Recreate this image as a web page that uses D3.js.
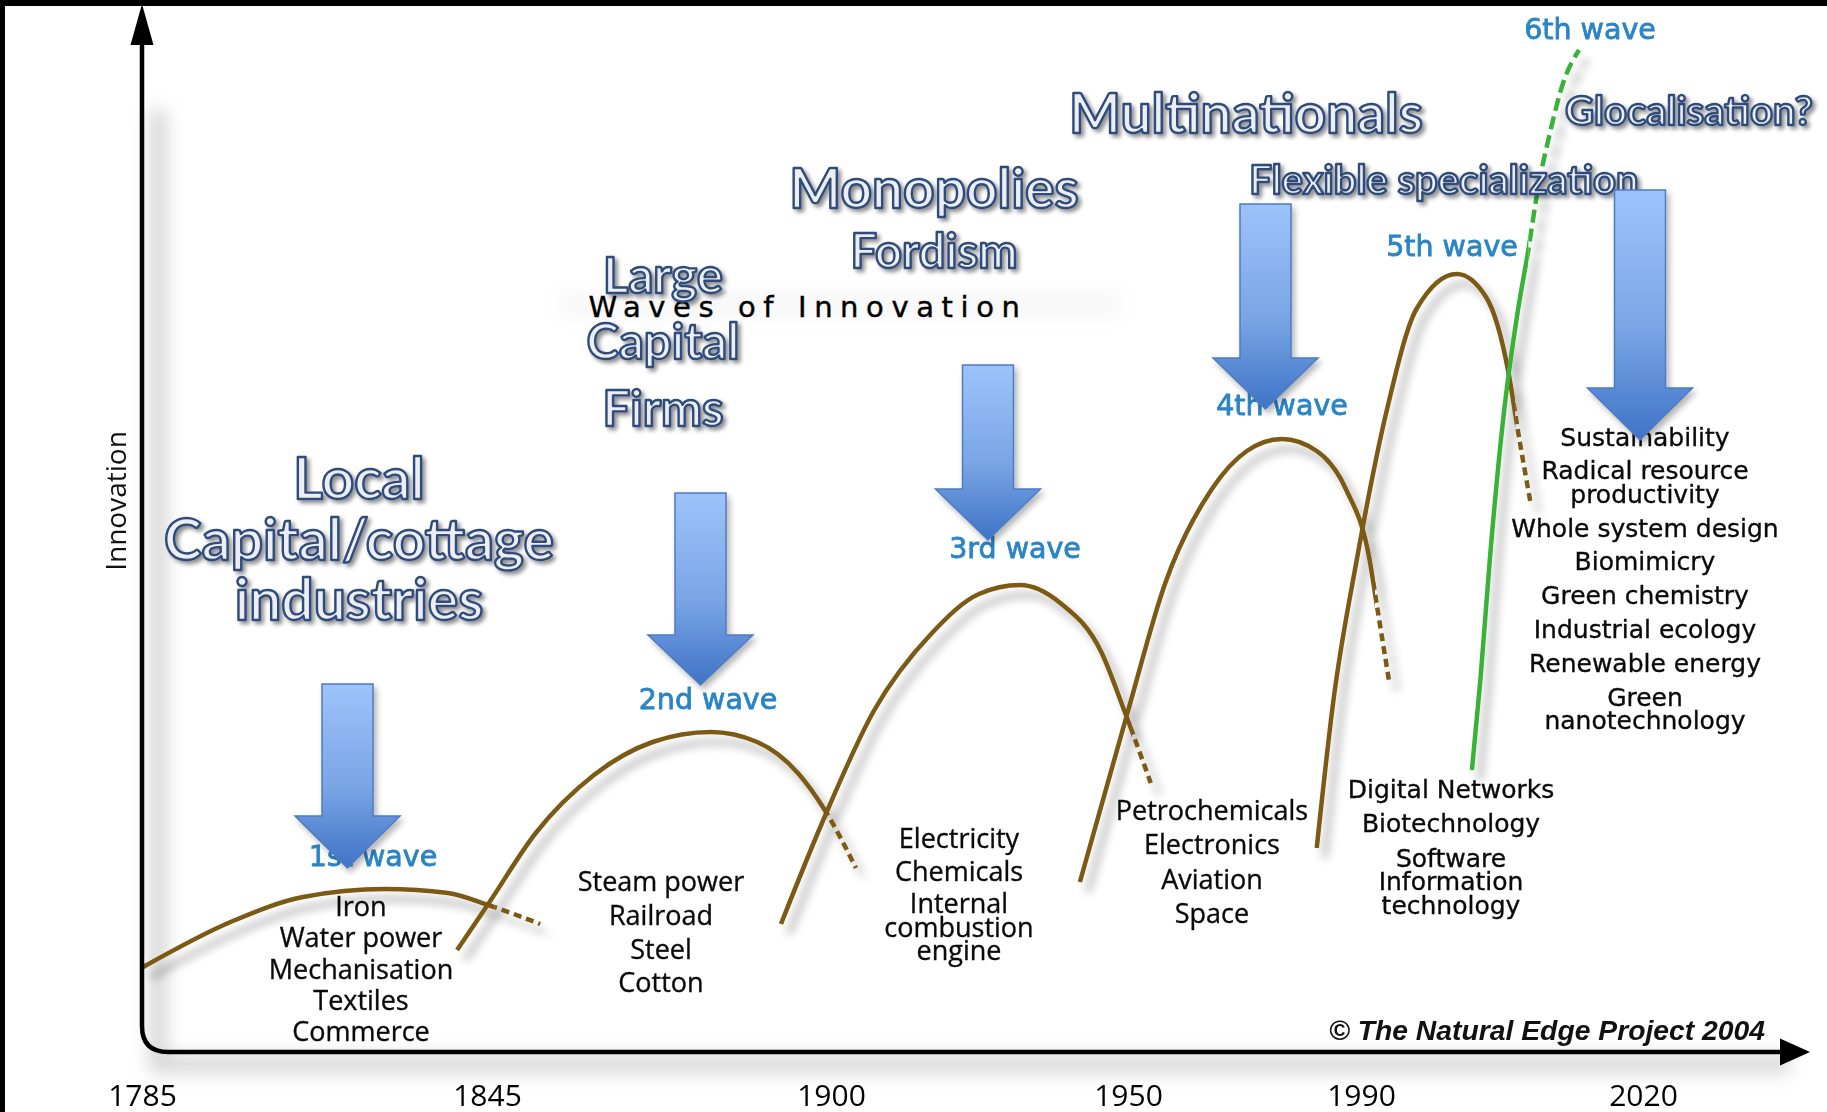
<!DOCTYPE html>
<html><head><meta charset="utf-8">
<script src="https://cdn.jsdelivr.net/npm/d3@7"></script>
<style>
html,body{margin:0;padding:0;background:#fff;}
svg{display:block;}
</style></head>
<body><svg id="chart" width="1827" height="1112"></svg>
<script>
// ================= DATA =================
const tickYears = [1785, 1845, 1900, 1950, 1990, 2020];
const waveNames = ["1st wave", "2nd wave", "3rd wave", "4th wave", "5th wave", "6th wave"];
// [year, innovation level (0-100)]
const wave1 = [[1785.2, 8.5], [1800.8, 13.1], [1813.0, 15.5], [1827.3, 16.3], [1838.2, 15.9], [1845.2, 14.7], [1853.5, 12.8]];
const wave2 = [[1839.8, 10.2], [1845.3, 14.9], [1852.8, 21.9], [1862.1, 27.7], [1871.5, 31.0], [1880.8, 32.0], [1888.2, 31.0], [1894.7, 27.9], [1899.0, 24.2], [1904.2, 18.4]];
const wave3 = [[1892.0, 12.8], [1898.7, 23.1], [1907.2, 34.1], [1917.0, 41.9], [1924.9, 45.8], [1931.8, 46.7], [1938.6, 44.9], [1945.5, 40.0], [1949.4, 34.1], [1953.9, 26.9]];
const wave4 = [[1941.9, 17.0], [1950.0, 34.1], [1956.4, 46.9], [1964.4, 56.3], [1970.4, 60.1], [1976.4, 61.3], [1982.4, 60.1], [1987.4, 56.3], [1990.9, 49.3], [1991.7, 44.6], [1993.0, 37.0]];
const wave5 = [[1982.4, 20.4], [1985.3, 35.3], [1989.3, 49.3], [1992.8, 64.4], [1995.9, 74.3], [2000.2, 77.8], [2003.3, 75.5], [2005.7, 67.9], [2006.7, 62.1], [2008.0, 55.1]];
const wave6 = [[2001.8, 28.2], [2002.7, 37.2], [2003.7, 49.2], [2005.2, 63.9], [2006.7, 74.2], [2007.8, 80.2], [2008.8, 86.2], [2010.1, 91.9], [2011.5, 96.9], [2013.2, 100.2]];
// year after which each wave is drawn dashed (uncertain / fading part)
const waveDashFrom = [1846.2, 1899.4, 1950.7, 1991.5, 2006.4, 2007.8];

const items1 = ["Iron", "Water power", "Mechanisation", "Textiles", "Commerce"];
const items2 = ["Steam power", "Railroad", "Steel", "Cotton"];
const items3 = ["Electricity", "Chemicals", "Internal\ncombustion\nengine"];
const items4 = ["Petrochemicals", "Electronics", "Aviation", "Space"];
const items5 = ["Digital Networks", "Biotechnology", "Software\nInformation\ntechnology"];
const items6 = ["Sustainability", "Radical resource\nproductivity", "Whole system design", "Biomimicry", "Green chemistry", "Industrial ecology", "Renewable energy", "Green\nnanotechnology"];

const eraText = ["Local", "Capital/cottage", "industries", "Large", "Capital", "Firms", "Monopolies", "Fordism", "Multinationals", "Flexible specialization", "Glocalisation?"];

const chartTitle = "Waves of Innovation";
const yAxisTitle = "Innovation";
const credit = "\u00A9 The Natural Edge Project 2004";

// ================= LAYOUT =================
const W = 1827, H = 1112;
const tickPx = [142, 487, 831, 1128, 1361, 1643];
const yTopPx = 52, yBasePx = 1052;

const waveLabelPos = [[373, 856], [708, 699], [1015, 548], [1282, 405], [1452, 246], [1590, 29]];
const sansA = "'Open Sans', sans-serif", sansB = "'DejaVu Sans', sans-serif";
const itemGroups = [
  {items: items1, cx: 361, y0: 907, gap: 31.3, font: sansA, size: 27},
  {items: items2, cx: 661, y0: 882, gap: 33.7, font: sansA, size: 27},
  {items: items3, cx: 959, y0: 839, gap: 32.5, font: sansA, size: 27},
  {items: items4, cx: 1212, y0: 811, gap: 34.3, font: sansA, size: 27},
  {items: items5, cx: 1451, y0: 789, gap: 34.5, font: sansB, size: 25},
  {items: items6, cx: 1645, y0: 437, gap: 33.8, font: sansB, size: 25}
];
const wrapGap = 23.5;
// [cx, baseline, font-size]
const eraPos = [[359, 499, 57], [359, 560, 57], [359, 620, 57],
                [663, 293, 49], [663, 359, 49], [663, 426, 49],
                [934, 208, 55], [934, 268, 47],
                [1246, 133, 55], [1444, 194, 40],
                [1689, 125, 40]];
// arrows: cx, top, head base, tip
const arrows = [[347.5, 684, 816, 868], [700.5, 493, 635, 685], [988, 365, 489, 540], [1265.5, 204, 358, 409], [1640, 190, 388, 440]];

// ================= DRAW =================
const svg = d3.select("#chart");
const defs = svg.append("defs");

function shadowFilter(id, blur, dx, dy, op) {
  const f = defs.append("filter").attr("id", id).attr("x", "-30%").attr("y", "-30%").attr("width", "160%").attr("height", "160%");
  f.append("feGaussianBlur").attr("in", "SourceAlpha").attr("stdDeviation", blur);
  f.append("feOffset").attr("dx", dx).attr("dy", dy).attr("result", "ob");
  const ct = f.append("feComponentTransfer").attr("in", "ob").attr("result", "sh");
  ct.append("feFuncA").attr("type", "linear").attr("slope", op);
  const m = f.append("feMerge");
  m.append("feMergeNode").attr("in", "sh");
  m.append("feMergeNode").attr("in", "SourceGraphic");
}
shadowFilter("curveShadow", 5, 8, 10, 0.35);
shadowFilter("textShadow", 2, 3, 3, 0.45);
shadowFilter("arrowShadow", 3, 3, 4, 0.3);
const blurF = defs.append("filter").attr("id", "softBlur").attr("x", "-20%").attr("y", "-50%").attr("width", "140%").attr("height", "200%");
blurF.append("feGaussianBlur").attr("stdDeviation", 9);

const grad = defs.append("linearGradient").attr("id", "arrowGrad").attr("x1", 0).attr("y1", 0).attr("x2", 0).attr("y2", 1);
grad.append("stop").attr("offset", "0%").attr("stop-color", "#9dc3fa");
grad.append("stop").attr("offset", "55%").attr("stop-color", "#7aa6e6");
grad.append("stop").attr("offset", "100%").attr("stop-color", "#3f73c6");

svg.append("rect").attr("width", W).attr("height", H).attr("fill", "#fff");

const x = d3.scaleLinear().domain(tickYears).range(tickPx);
const y = d3.scaleLinear().domain([0, 100]).range([yBasePx, yTopPx]);

const ax = x(tickYears[0]), ay = y(0);

// soft shadows of axes
svg.append("path")
  .attr("d", `M${ax + 16},110 V${ay + 12} H1790`)
  .attr("fill", "none").attr("stroke", "#9a9a9a").attr("stroke-width", 16)
  .attr("opacity", 0.45).attr("filter", "url(#softBlur)");
// faint haze behind title
svg.append("rect").attr("x", 560).attr("y", 292).attr("width", 560).attr("height", 26)
  .attr("fill", "#ccc").attr("opacity", 0.15).attr("filter", "url(#softBlur)");

// title
svg.append("text").attr("x", 804 + 4).attr("y", 317).attr("text-anchor", "middle")
  .attr("font-family", sansB).attr("font-size", 29)
  .attr("letter-spacing", 7.6).attr("fill", "#000").attr("stroke", "#000").attr("stroke-width", 0.4)
  .text(chartTitle);

// waves
const line = d3.line().x(d => x(d[0])).y(d => y(d[1])).curve(d3.curveMonotoneX);
const waves = [wave1, wave2, wave3, wave4, wave5, wave6];
const waveColors = ["#7b5a12", "#7b5a12", "#7b5a12", "#7b5a12", "#7b5a12", "#39b339"];
const gW = svg.append("g").attr("filter", "url(#curveShadow)");
waves.forEach((w, i) => {
  const xd = x(waveDashFrom[i]);
  defs.append("clipPath").attr("id", "cs" + i).append("rect").attr("x", 0).attr("y", 0).attr("width", xd).attr("height", H);
  defs.append("clipPath").attr("id", "cd" + i).append("rect").attr("x", xd).attr("y", 0).attr("width", W - xd).attr("height", H);
  gW.append("path").attr("d", line(w)).attr("fill", "none").attr("stroke", waveColors[i])
    .attr("stroke-width", 4.5).attr("stroke-linecap", "butt").attr("clip-path", `url(#cs${i})`);
  gW.append("path").attr("d", line(w)).attr("fill", "none").attr("stroke", waveColors[i])
    .attr("stroke-width", 4.5).attr("stroke-dasharray", i === 5 ? "13,6" : "8,5").attr("clip-path", `url(#cd${i})`);
});

// wave item lists
itemGroups.forEach(g => {
  let yy = g.y0;
  const t = svg.append("g").attr("font-family", g.font).attr("font-size", g.size).attr("fill", "#0a0a0a")
    .attr("stroke", "#0a0a0a").attr("stroke-width", 0.35).attr("text-anchor", "middle");
  g.items.forEach((it, k) => {
    if (k > 0) yy += g.gap;
    it.split("\n").forEach((ln, j) => {
      if (j > 0) yy += wrapGap;
      t.append("text").attr("x", g.cx).attr("y", yy).attr("dy", "0.34em").text(ln);
    });
  });
});

// wave labels
waveNames.forEach((n, i) => {
  svg.append("text").attr("x", waveLabelPos[i][0]).attr("y", waveLabelPos[i][1]).attr("dy", "0.36em")
    .attr("text-anchor", "middle").attr("font-family", sansB).attr("font-size", 28.5)
    .attr("fill", "#2a84c6").attr("stroke", "#2a84c6").attr("stroke-width", 0.8).text(n);
});

// era labels (outlined)
const gE = svg.append("g").attr("filter", "url(#textShadow)");
eraText.forEach((t, i) => {
  gE.append("text").attr("x", eraPos[i][0]).attr("y", eraPos[i][1]).attr("text-anchor", "middle")
    .attr("font-family", "Lato, sans-serif").attr("font-weight", 700).attr("font-size", eraPos[i][2])
    .attr("fill", "#eceef3").attr("stroke", "#2f4c7c").attr("stroke-width", 2.4)
    .attr("stroke-linejoin", "round").text(t);
});

// arrows
const gA = svg.append("g").attr("filter", "url(#arrowShadow)");
arrows.forEach(a => {
  const [cx, top, base, tip] = a, sw = 25.5, hw = 52.5;
  gA.append("path")
    .attr("d", `M${cx - sw},${top} H${cx + sw} V${base} H${cx + hw} L${cx},${tip} L${cx - hw},${base} H${cx - sw} Z`)
    .attr("fill", "url(#arrowGrad)").attr("stroke", "#4d7cc2").attr("stroke-width", 1.5);
});

// axes
const r = 26;
svg.append("path")
  .attr("d", `M${ax},40 V${ay - r} Q${ax},${ay} ${ax + r},${ay} H1784`)
  .attr("fill", "none").attr("stroke", "#000").attr("stroke-width", 4.5);
svg.append("path").attr("d", `M${ax - 11.5},45 L${ax},4 L${ax + 11.5},45 Z`).attr("fill", "#000");
svg.append("path").attr("d", `M1780,${ay - 13.5} L1810,${ay} L1780,${ay + 13.5} Z`).attr("fill", "#000");

const gx = svg.append("g").attr("transform", `translate(0,${ay})`)
  .call(d3.axisBottom(x).tickValues(tickYears).tickFormat(d3.format("d")).tickSize(0).tickPadding(33));
gx.select(".domain").remove();
gx.selectAll("text").attr("font-family", sansA).attr("font-size", 30).attr("fill", "#000");

// y axis title
svg.append("text").attr("transform", `translate(116,501) rotate(-90)`).attr("dy", "0.35em")
  .attr("text-anchor", "middle").attr("font-family", sansA).attr("font-size", 28)
  .attr("fill", "#111").text(yAxisTitle);

// credit
svg.append("text").attr("x", 1547).attr("y", 1040).attr("text-anchor", "middle")
  .attr("font-family", "'Liberation Sans', Arial, sans-serif").attr("font-style", "italic").attr("font-weight", 700)
  .attr("font-size", 28.3).attr("fill", "#111").text(credit);

// black frame edges
svg.append("rect").attr("x", 0).attr("y", 0).attr("width", W).attr("height", 6).attr("fill", "#000");
svg.append("rect").attr("x", 0).attr("y", 0).attr("width", 5).attr("height", H).attr("fill", "#000");
</script>
</body></html>
